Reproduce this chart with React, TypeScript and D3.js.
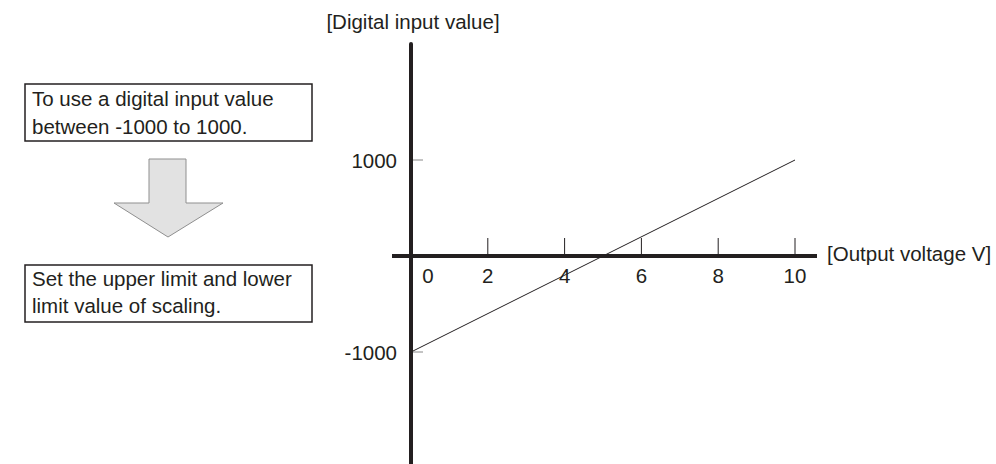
import * as d3 from 'd3';
import React from 'react';

// chart values
const xTicks = [0, 2, 4, 6, 8, 10];
const yTicks = [1000, -1000];
const lineX = [0, 10];
const lineY = [-1000, 1000];
const topNote = ['To use a digital input value', 'between -1000 to 1000.'];
const bottomNote = ['Set the upper limit and lower', 'limit value of scaling.'];

const W = 996;
const H = 464;
const font = 'Liberation Sans, Arial, sans-serif';
const fs = 20.5;
const ink = '#231f20';

const App: React.FC = () => {
    const x = d3.scaleLinear().domain([0, 10]).range([411, 795]);
    const y = d3.scaleLinear().domain([-1000, 1000]).range([352, 160]);
    const y0 = y(0);

    const line = d3
        .line<number>()
        .x(d => x(lineX[d]))
        .y(d => y(lineY[d]));

    // block arrow pointing down
    const arrow = 'M149,159 L186,159 L186,203 L223,203 L168,237 L114,203 L149,203 Z';

    return (
        <svg width={W} height={H} style={{ position: 'absolute', left: 0, top: 0 }} fontFamily={font}>
            <rect width={W} height={H} fill="#fff" />

            {/* note boxes */}
            <rect x={25} y={84} width={287} height={57} fill="#fff" stroke={ink} strokeWidth={1.5} />
            {topNote.map((t, i) => (
                <text key={t} x={32} y={106 + i * 28} fontSize={fs} fill={ink}>{t}</text>
            ))}
            <path d={arrow} fill="#e2e2e2" stroke="#8f8f8f" strokeWidth={1} />
            <rect x={25} y={265} width={287} height={57} fill="#fff" stroke={ink} strokeWidth={1.5} />
            {bottomNote.map((t, i) => (
                <text key={t} x={32} y={286 + i * 27} fontSize={fs} fill={ink}>{t}</text>
            ))}

            {/* x ticks */}
            {xTicks.filter(d => d !== 0).map(d => (
                <line key={d} x1={x(d)} x2={x(d)} y1={y0 - 18} y2={y0} stroke={ink} strokeWidth={1} />
            ))}
            {xTicks.map(d => (
                <text key={d} x={d === 0 ? x(d) + 17 : x(d)} y={y0 + 27} fontSize={fs} textAnchor="middle" fill={ink}>{d}</text>
            ))}

            {/* y ticks */}
            {yTicks.map(d => (
                <g key={d}>
                    <line x1={x(0)} x2={x(0) + 12} y1={y(d)} y2={y(d)} stroke="#888" strokeWidth={1} />
                    <text x={397} y={y(d) + 8} fontSize={fs} textAnchor="end" fill={ink}>{d}</text>
                </g>
            ))}

            {/* data line */}
            <path d={line([0, 1]) ?? ''} fill="none" stroke={ink} strokeWidth={1} />

            {/* axes */}
            <line x1={392} x2={817} y1={y0} y2={y0} stroke={ink} strokeWidth={4} />
            <line x1={x(0)} x2={x(0)} y1={44} y2={H} stroke={ink} strokeWidth={4} strokeLinecap="round" />

            <text x={413} y={29} fontSize={fs} textAnchor="middle" fill={ink}>[Digital input value]</text>
            <text x={827} y={261} fontSize={fs} fill={ink}>[Output voltage V]</text>
        </svg>
    );
};

export default App;
